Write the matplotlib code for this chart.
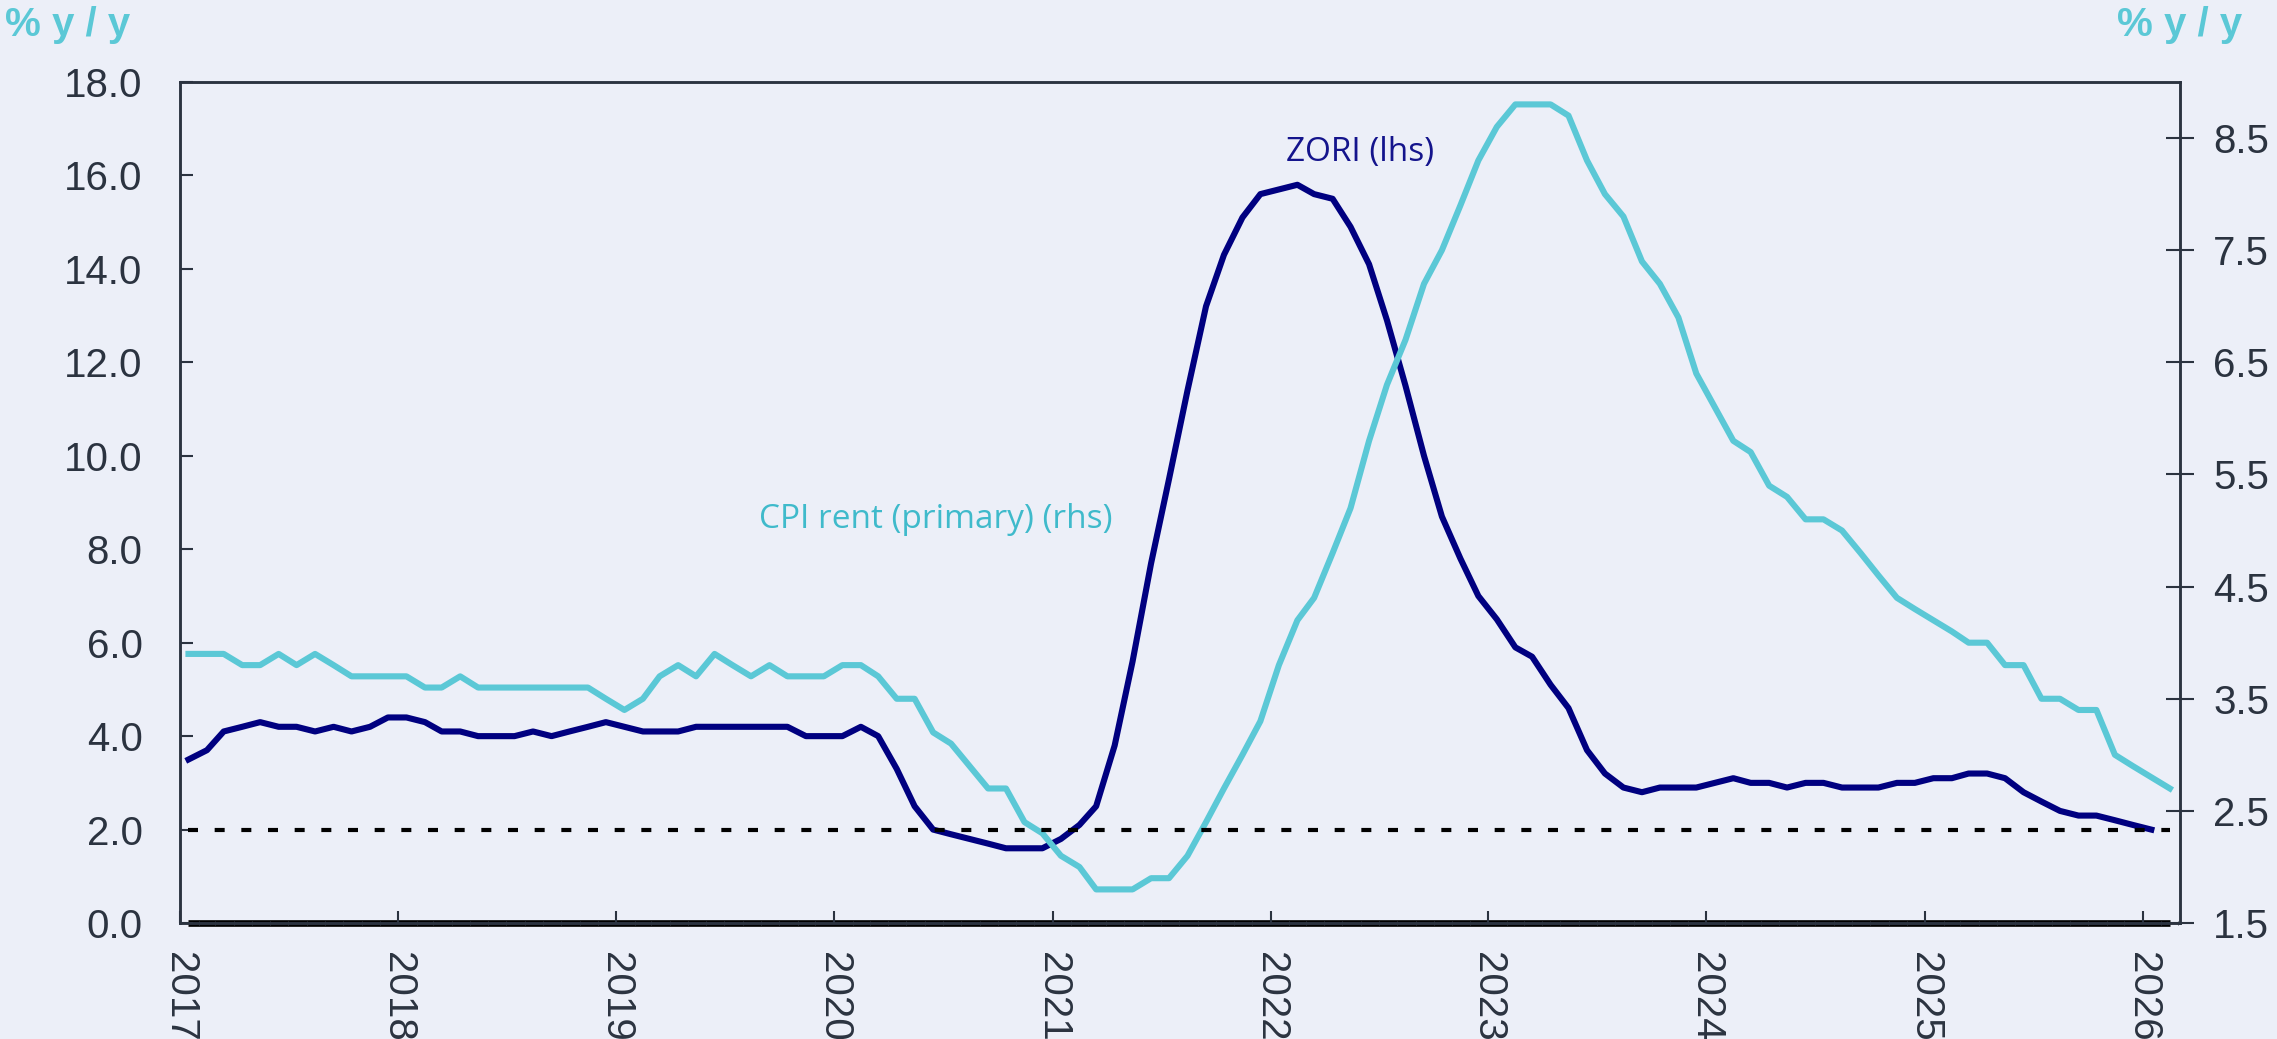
"""
ZORI vs CPI rent of primary residence, y/y growth, monthly 2017 - early 2026.
ZORI on the left axis, CPI rent on the right axis, 2% reference line.
"""

import numpy as np
import pandas as pd
import matplotlib
matplotlib.use("Agg")
import matplotlib.pyplot as plt
import matplotlib.dates as mdates

# ----------------------------------------------------------------------
# Data (% y/y, monthly from Jan 2017)
# ----------------------------------------------------------------------
START_MONTH = "2017-01"

zori = [
    3.5, 3.7, 4.1, 4.2, 4.3, 4.2, 4.2, 4.1, 4.2, 4.1, 4.2, 4.4,   # 2017
    4.4, 4.3, 4.1, 4.1, 4.0, 4.0, 4.0, 4.1, 4.0, 4.1, 4.2, 4.3,   # 2018
    4.2, 4.1, 4.1, 4.1, 4.2, 4.2, 4.2, 4.2, 4.2, 4.2, 4.0, 4.0,   # 2019
    4.0, 4.2, 4.0, 3.3, 2.5, 2.0, 1.9, 1.8, 1.7, 1.6, 1.6, 1.6,   # 2020
    1.8, 2.1, 2.5, 3.8, 5.6, 7.7, 9.5, 11.4, 13.2, 14.3, 15.1, 15.6,  # 2021
    15.7, 15.8, 15.6, 15.5, 14.9, 14.1, 12.9, 11.5, 10.0, 8.7, 7.8, 7.0,  # 2022
    6.5, 5.9, 5.7, 5.1, 4.6, 3.7, 3.2, 2.9, 2.8, 2.9, 2.9, 2.9,   # 2023
    3.0, 3.1, 3.0, 3.0, 2.9, 3.0, 3.0, 2.9, 2.9, 2.9, 3.0, 3.0,   # 2024
    3.1, 3.1, 3.2, 3.2, 3.1, 2.8, 2.6, 2.4, 2.3, 2.3, 2.2, 2.1,   # 2025
    2.0,                                                          # 2026
]

cpi_rent = [
    3.9, 3.9, 3.9, 3.8, 3.8, 3.9, 3.8, 3.9, 3.8, 3.7, 3.7, 3.7,   # 2017
    3.7, 3.6, 3.6, 3.7, 3.6, 3.6, 3.6, 3.6, 3.6, 3.6, 3.6, 3.5,   # 2018
    3.4, 3.5, 3.7, 3.8, 3.7, 3.9, 3.8, 3.7, 3.8, 3.7, 3.7, 3.7,   # 2019
    3.8, 3.8, 3.7, 3.5, 3.5, 3.2, 3.1, 2.9, 2.7, 2.7, 2.4, 2.3,   # 2020
    2.1, 2.0, 1.8, 1.8, 1.8, 1.9, 1.9, 2.1, 2.4, 2.7, 3.0, 3.3,   # 2021
    3.8, 4.2, 4.4, 4.8, 5.2, 5.8, 6.3, 6.7, 7.2, 7.5, 7.9, 8.3,   # 2022
    8.6, 8.8, 8.8, 8.8, 8.7, 8.3, 8.0, 7.8, 7.4, 7.2, 6.9, 6.4,   # 2023
    6.1, 5.8, 5.7, 5.4, 5.3, 5.1, 5.1, 5.0, 4.8, 4.6, 4.4, 4.3,   # 2024
    4.2, 4.1, 4.0, 4.0, 3.8, 3.8, 3.5, 3.5, 3.4, 3.4, 3.0, 2.9,   # 2025
    2.8, 2.7,                                                     # 2026
]

TARGET = 2.0
LEFT_TICKS = [0, 2, 4, 6, 8, 10, 12, 14, 16, 18]
RIGHT_TICKS = [1.5, 2.5, 3.5, 4.5, 5.5, 6.5, 7.5, 8.5]

# ----------------------------------------------------------------------
# Style
# ----------------------------------------------------------------------
BG = "#ECEFF8"
DARK = "#2B3340"
NAVY = "#000080"
CYAN = "#5BC8D6"
CYAN_TXT = "#3FBACB"
OUTPATH = "out.png"

plt.rcParams["font.family"] = ["Liberation Sans", "DejaVu Sans"]

zori_dates = pd.date_range(START_MONTH, periods=len(zori), freq="MS") + pd.Timedelta(days=14)
cpi_dates = pd.date_range(START_MONTH, periods=len(cpi_rent), freq="MS") + pd.Timedelta(days=14)

fig = plt.figure(figsize=(22.77, 10.39), dpi=100, facecolor=BG)
ax = fig.add_axes([0.0791, 0.1116, 0.8783, 0.8095])
ax.set_facecolor(BG)
ax2 = ax.twinx()

# zero line and ZORI on the left axis
ax.plot(cpi_dates, np.zeros(len(cpi_rent)), color="black", lw=4.8,
        solid_capstyle="butt", zorder=1.5, clip_on=False)
ax.plot(zori_dates, zori, color=NAVY, lw=4.4, zorder=2)

# CPI rent on the right axis
ax2.plot(cpi_dates, cpi_rent, color=CYAN, lw=4.4, zorder=2)

# 2% reference line, drawn on top of both series (left-axis units)
ax2.plot(cpi_dates, np.full(len(cpi_rent), TARGET), color="black", lw=3.0,
         dashes=(2.4, 4.0), transform=ax.transData, zorder=3)

ax.set_xlim(pd.Timestamp("2017-01-01"), pd.Timestamp("2026-03-04"))
ax.set_ylim(0, 18)
ax2.set_ylim(1.5, 9.0)

ax.set_yticks(LEFT_TICKS)
ax.yaxis.set_major_formatter(matplotlib.ticker.FormatStrFormatter("%.1f"))
ax2.set_yticks(RIGHT_TICKS)
ax2.yaxis.set_major_formatter(matplotlib.ticker.FormatStrFormatter("%.1f"))

ax.xaxis.set_major_locator(mdates.YearLocator())
ax.xaxis.set_major_formatter(mdates.DateFormatter("%Y"))
ax.xaxis.set_minor_locator(mdates.MonthLocator())

ax.tick_params(axis="y", direction="in", length=9, width=1.5, color=DARK,
               labelsize=29, labelcolor=DARK, pad=27)
ax2.tick_params(axis="y", direction="inout", length=20, width=1.5, color=DARK,
                labelsize=29, labelcolor=DARK, pad=14)
ax.tick_params(axis="x", which="major", direction="in", length=9, width=1.5,
               color=DARK, labelsize=29, labelcolor=DARK, pad=21,
               labelrotation=-90)
ax.tick_params(axis="x", which="minor", direction="inout", length=3, width=0.6,
               color="#3a414d")

for a in (ax, ax2):
    for side in ("left", "right", "top", "bottom"):
        a.spines[side].set_color(DARK)
        a.spines[side].set_linewidth(1.8)

# axis unit labels
fig.text(5 / 2277, 1 - 6 / 1039, "% y / y", color=CYAN, fontsize=29,
         weight="bold", ha="left", va="top")
fig.text(2242 / 2277, 1 - 6 / 1039, "% y / y", color=CYAN, fontsize=29,
         weight="bold", ha="right", va="top")

# series labels
fig.text(1360 / 2277, 1 - 152 / 1039, "ZORI (lhs)", color="#14148C",
         fontsize=24, family="Open Sans", ha="center", va="center")
fig.text(936 / 2277, 1 - 520 / 1039, "CPI rent (primary) (rhs)", color=CYAN_TXT,
         fontsize=24, family="Open Sans", ha="center", va="center")

fig.savefig(OUTPATH, dpi=100, facecolor=BG)
